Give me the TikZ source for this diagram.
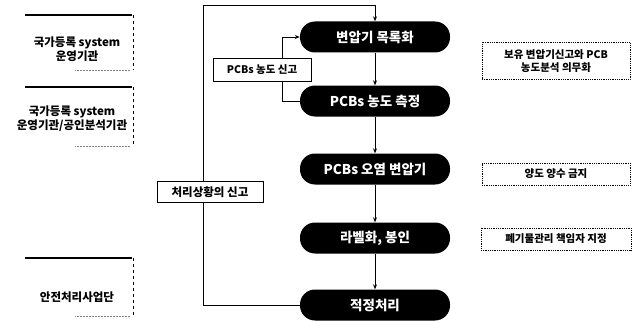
\documentclass[tikz,border=0pt]{standalone}
\usepackage{fontspec}
\setmainfont{Noto Sans CJK KR}
\usetikzlibrary{arrows.meta}
\tikzset{
  pill/.style={fill=black, text=white, rounded corners=15pt, minimum width=150pt, minimum height=31pt, inner sep=0pt, font=\bfseries\fontsize{13.5}{15}\selectfont},
  flow/.style={draw=black, line width=0.8pt, -{Stealth[length=5pt,width=4pt]}},
  tag/.style={draw=black, fill=white, line width=0.7pt, inner sep=0pt, font=\bfseries\fontsize{10.5}{12}\selectfont},
  duty/.style={draw=black, densely dotted, line width=0.8pt, inner sep=0pt, align=center, font=\bfseries\fontsize{10.5}{12.5}\selectfont},
  org/.style={align=center, inner sep=0pt, font=\bfseries\fontsize{11.5}{14}\selectfont},
}
\begin{document}
\begin{tikzpicture}[x=1pt,y=-1pt]
\useasboundingbox[fill=white] (0,0) rectangle (642,321);
% central flow
\node[pill] (n1) at (375,37) {변압기 목록화};
\node[pill] (n2) at (375,101) {PCBs 농도 측정};
\node[pill] (n3) at (375,169) {PCBs 오염 변압기};
\node[pill] (n4) at (375,238) {라벨화, 봉인};
\node[pill] (n5) at (375,305) {적정처리};
\draw[flow] (n1.south) -- (n2.north);
\draw[flow] (n2.south) -- (n3.north);
\draw[flow] (n3.south) -- (n4.north);
\draw[flow] (n4.south) -- (n5.north);
% feedback loops
\coordinate (tl) at (203,5);
\draw[flow] (n5.west) -| (tl) -| (n1.north);
\coordinate (sl) at (282,37);
\draw[flow] (n2.west) -| (sl) -- (n1.west);
\node[tag, minimum width=98pt, minimum height=23pt] (t1) at (262,70) {PCBs 농도 신고};
\node[tag, minimum width=106pt, minimum height=21pt, font=\bfseries\fontsize{11.5}{13}\selectfont] (t2) at (210,192) {처리상황의 신고};
% left organisations
\node[org] (o1) at (77,49) {국가등록 system\\운영기관};
\node[org] (o2) at (72,119) {국가등록 system\\운영기관/공인분석기관};
\node[org] (o3) at (77,297) {안전처리사업단};
\foreach \t/\b in {15/70, 87/146, 258/316}{
  \draw[line width=1.6pt] (25,\t) -- (132,\t);
  \draw[dashed, line width=0.6pt] (133,\t) -- (133,\b);
  \draw[densely dotted, line width=0.5pt, gray] (75,\b) -- (130,\b);
}
% right duties
\node[duty, minimum width=148pt, minimum height=37pt] (d1) at (556,61) {보유 변압기신고와 PCB\\농도분석 의무화};
\node[duty, minimum width=148pt, minimum height=22pt] (d2) at (556,174) {양도 양수 금지};
\node[duty, minimum width=150pt, minimum height=22pt] (d3) at (556,239) {폐기물관리 책임자 지정};
\end{tikzpicture}
\end{document}
